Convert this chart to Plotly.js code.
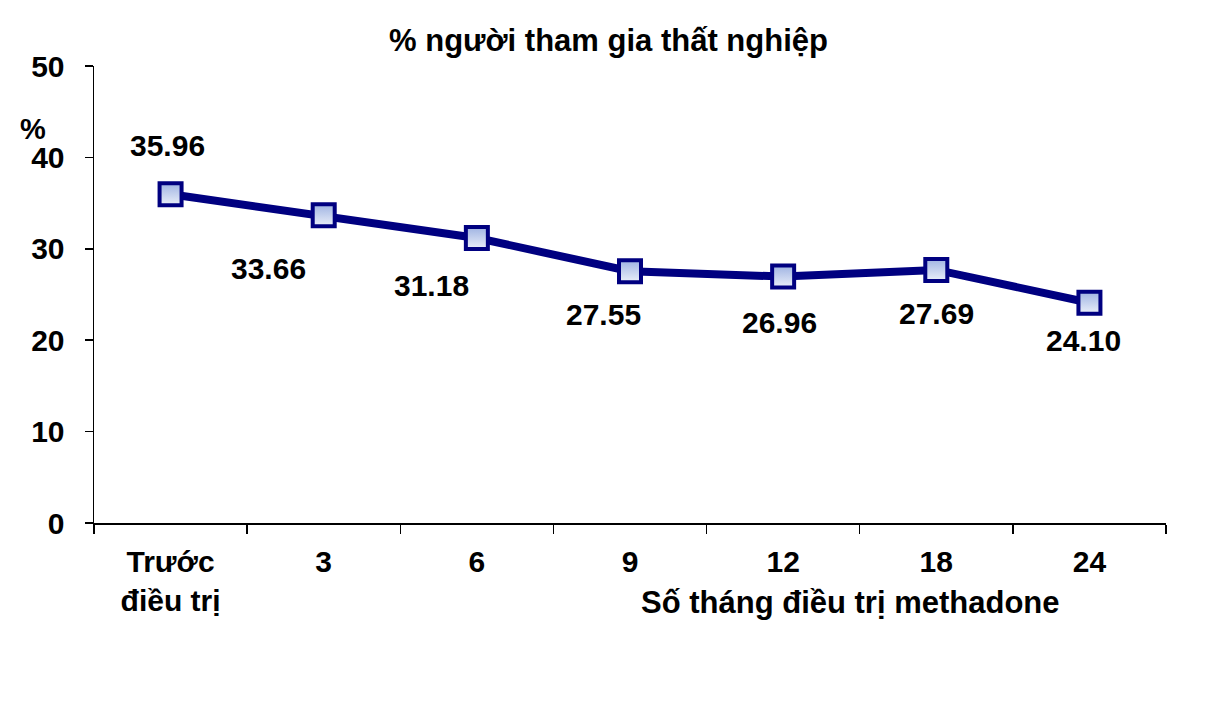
<!DOCTYPE html>
<html><head><meta charset="utf-8">
<script src="https://cdn.plot.ly/plotly-3.0.1.min.js"></script>
<style>html,body{margin:0;padding:0;background:#fff}#c{width:1217px;height:711px}</style>
</head><body><div id="c"></div>
<script>
const categories = ["Trước<br>điều trị", "3", "6", "9", "12", "18", "24"];
const values = [35.96, 33.66, 31.18, 27.55, 26.96, 27.69, 24.10];
const yTicks = [0, 10, 20, 30, 40, 50];
const chartTitle = "% người tham gia thất nghiệp";
const xTitle = "Số tháng điều trị methadone";
const yTitle = "%";

// label offsets (pixels) for data labels
const labelDx = [-3, -55, -45, -27, -4, 0, -6];
const labelDy = [-49, 53, 47, 43, 46, 44, 38];

const font = "Liberation Sans, Arial, sans-serif";
const annotations = values.map((v, i) => ({
  x: i, y: v, xref: 'x', yref: 'y',
  text: '<b>' + v.toFixed(2) + '</b>', showarrow: true, arrowcolor: 'rgba(0,0,0,0)',
  ax: labelDx[i], ay: labelDy[i],
  font: {family: font, size: 30, color: '#000'}
}));
annotations.push({xref: 'paper', yref: 'paper', x: 0.706, y: -0.175, xanchor: 'center', yanchor: 'middle',
  text: '<b>' + xTitle + '</b>', showarrow: false, font: {family: font, size: 31, color: '#000'}});
annotations.push({xref: 'paper', yref: 'paper', x: -0.057, y: 0.862, xanchor: 'center', yanchor: 'middle',
  text: '<b>' + yTitle + '</b>', showarrow: false, font: {family: font, size: 29, color: '#000'}});

const trace = {
  x: categories.map((c, i) => i), y: values, type: 'scatter', mode: 'lines+markers',
  line: {color: '#000080', width: 8},
  marker: {symbol: 'square', size: 22, color: '#9fb3e2',
    gradient: {type: 'vertical', color: '#eaeff9'},
    line: {color: '#000080', width: 4}},
  hoverinfo: 'none'
};

const layout = {
  width: 1217, height: 711,
  margin: {l: 94, r: 51, t: 66, b: 188},
  paper_bgcolor: '#fff', plot_bgcolor: '#fff',
  showlegend: false,
  title: {text: '<b>' + chartTitle + '</b>', x: 0.5, xref: 'container', xanchor: 'center', y: 0.943, yanchor: 'middle',
    font: {family: font, size: 31, color: '#000'}},
  xaxis: {type: 'linear', range: [-0.5, 6.5],
    tickvals: categories.map((c, i) => i), ticktext: categories.map(c => '<b>' + c + '</b>'),
    ticks: '', showline: true, linecolor: '#000', linewidth: 1.5, showgrid: false, zeroline: false,
    tickfont: {family: font, size: 30, color: '#000'}, ticklabelstandoff: 11,
    minor: {tickvals: [-0.5, 0.5, 1.5, 2.5, 3.5, 4.5, 5.5, 6.5], ticks: 'outside', ticklen: 9, tickcolor: '#000', tickwidth: 1.5, showgrid: false},
    fixedrange: true},
  yaxis: {range: [0, 50], tickvals: yTicks, ticktext: yTicks.map(t => '<b>' + t + '</b>'),
    ticks: 'outside', ticklen: 8, tickcolor: '#000', tickwidth: 1.5, ticklabelstandoff: 14,
    showline: true, linecolor: '#000', linewidth: 1.5, showgrid: false, zeroline: false,
    tickfont: {family: font, size: 30, color: '#000'}, fixedrange: true},
  annotations: annotations
};

Plotly.newPlot('c', [trace], layout, {staticPlot: true});
</script>
</body></html>
